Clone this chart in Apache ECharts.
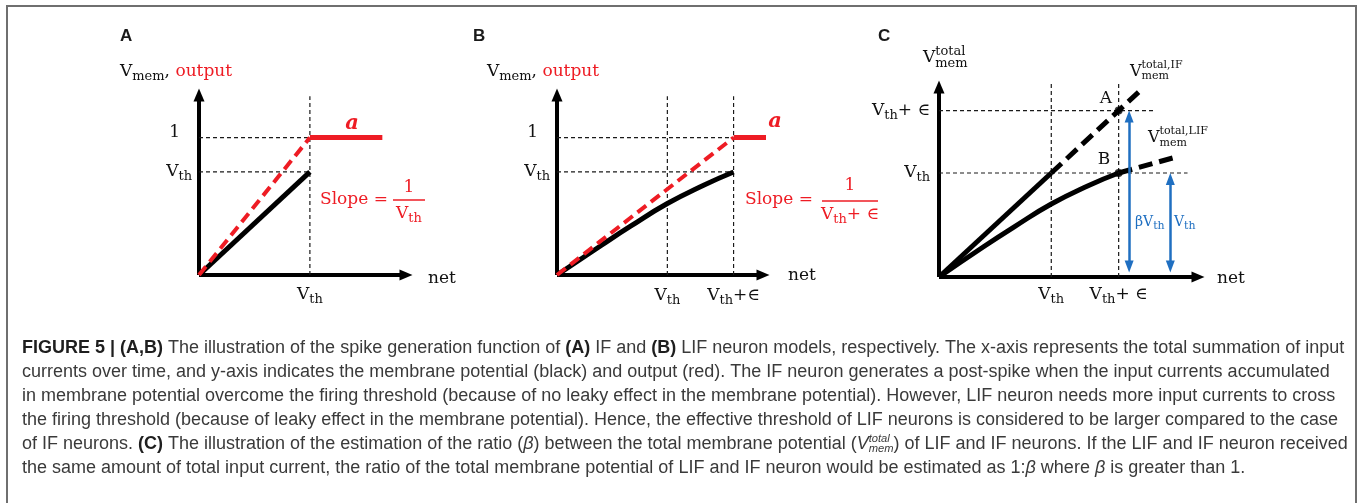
<!DOCTYPE html>
<html><head><meta charset="utf-8"><title>Figure 5</title>
<script src="https://cdn.jsdelivr.net/npm/echarts@6.0.0/dist/echarts.min.js"></script>
<style>html,body{margin:0;padding:0;background:#fff;}#chart{width:1360px;height:503px;}</style>
</head><body><div id="chart"></div>
<script>
// ---------------- data (x: net input, y: membrane potential / output) ----------------
const V_TH = 0.75;        // firing threshold
const V_TH_EPS = 1.2;     // effective threshold  V_th + ∈
const OUT_ONE = 1;        // output level "1"

// Panel A (IF neuron)
const memIF = [[0, 0], [0.75, 0.75]];
const outIF = [[0, 0], [0.75, 1]];
const spikeIF = [[0.75, 1], [1.24, 1]];
// Panel B (LIF neuron)
const memLIF = [[0, 0], [0.3, 0.215], [0.5, 0.355], [0.75, 0.52], [1.0, 0.655], [1.2, 0.75]];
const outLIF = [[0, 0], [1.2, 1]];
const spikeLIF = [[1.2, 1], [1.68, 1]];
// Panel C (total membrane potential)
const totIFSolid = [[0, 0], [0.75, 0.75]];
const totIFDash = [[0.75, 0.75], [1.2, 1.2], [1.35, 1.35]];
const totLIFSolid = [[0, 0], [0.3, 0.22], [0.5, 0.36], [0.75, 0.526], [1.0, 0.66], [1.2, 0.75]];
const totLIFDash = [[1.2, 0.75], [1.6, 0.87]];
const pointsAB = [[1.2, 1.2], [1.2, 0.75]];
const arrowBeta = [[1.27, 0.075], [1.27, 1.157]];
const arrowVth = [[1.545, 0.075], [1.545, 0.707]];

// dashed guide segments
const guideA = [[[0.75, 0], [0.75, 1.3]], [[0, 1], [0.75, 1]], [[0, 0.75], [0.75, 0.75]]];
const guideB = [[[0.75, 0], [0.75, 1.3]], [[1.2, 0], [1.2, 1.3]], [[0, 1], [1.2, 1]], [[0, 0.75], [1.2, 0.75]]];
const guideC = [[[0.75, 0], [0.75, 1.4]], [[1.2, 0], [1.2, 1.4]], [[0, 1.2], [1.43, 1.2]], [[0, 0.75], [1.66, 0.75]]];

// tick values and tick labels
const ticksAX = [V_TH], labelsAX = ['V_th'];
const ticksAY = [V_TH, OUT_ONE], labelsAY = ['V_th', '1'];
const ticksBX = [V_TH, V_TH_EPS], labelsBX = ['V_th', 'V_th+∈'];
const ticksBY = [V_TH, OUT_ONE], labelsBY = ['V_th', '1'];
const ticksCX = [V_TH, V_TH_EPS], labelsCX = ['V_th', 'V_th+ ∈'];
const ticksCY = [V_TH, V_TH_EPS], labelsCY = ['V_th', 'V_th+ ∈'];

// caption
const captionLines = [
  [{t: 'FIGURE 5 | (A,B)', b: 1}, {t: ' The illustration of the spike generation function of '}, {t: '(A)', b: 1}, {t: ' IF and '}, {t: '(B)', b: 1}, {t: ' LIF neuron models, respectively. The x-axis represents the total summation of input'}],
  [{t: 'currents over time, and y-axis indicates the membrane potential (black) and output (red). The IF neuron generates a post-spike when the input currents accumulated'}],
  [{t: 'in membrane potential overcome the firing threshold (because of no leaky effect in the membrane potential). However, LIF neuron needs more input currents to cross'}],
  [{t: 'the firing threshold (because of leaky effect in the membrane potential). Hence, the effective threshold of LIF neurons is considered to be larger compared to the case'}],
  [{t: 'of IF neurons. '}, {t: '(C)', b: 1}, {t: ' The illustration of the estimation of the ratio ('}, {t: 'β', i: 1}, {t: ') between the total membrane potential ('}, {t: 'V', i: 1}, {t: 'total', i: 1, sup: 1}, {t: 'mem', i: 1, sub: 1}, {t: ') of LIF and IF neurons. If the LIF and IF neuron received'}],
  [{t: 'the same amount of total input current, the ratio of the total membrane potential of LIF and IF neuron would be estimated as 1:'}, {t: 'β', i: 1}, {t: ' where '}, {t: 'β', i: 1}, {t: ' is greater than 1.'}]
];

// ---------------- styling helpers ----------------
const RED = '#ee1c24', BLUE = '#1f6fc1', INK = '#111111';
const SERIF = '"DejaVu Serif", "Liberation Serif", serif';
const F = (s, c) => (c || '') + s + 'px ' + SERIF;
const ctx = document.createElement('canvas').getContext('2d');
function tw(font, s) { ctx.font = font; return ctx.measureText(s).width; }

function runs(x, y, parts, align) {
  let total = 0;
  parts.forEach(p => { if (!p.noAdv) total += tw(p.f, p.t); });
  let cx = align === 'center' ? x - total / 2 : (align === 'right' ? x - total : x);
  const out = [];
  parts.forEach(p => {
    out.push({type: 'text', x: cx, y: y + (p.dy || 0), silent: true, z: 10,
      style: {text: p.t, font: p.f, fill: p.c || INK, textFill: p.c || INK,
              textAlign: 'left', align: 'left', textVerticalAlign: 'middle', verticalAlign: 'middle'}});
    if (!p.noAdv) cx += tw(p.f, p.t);
  });
  return out;
}

const AX_RICH = {
  v: {fontFamily: SERIF, fontSize: 17, lineHeight: 22, color: INK},
  s: {fontFamily: SERIF, fontSize: 13, lineHeight: 22, padding: [10, 0, 0, 0], color: INK},
  n: {fontFamily: SERIF, fontSize: 17, lineHeight: 22, padding: [0, 12, 10, 0], color: INK}
};
function fmt(s) {
  if (s === undefined) return '';
  if (s === '1') return '{n|1}';
  const m = s.match(/^V_th(.*)$/);
  return '{v|V}{s|th}' + (m && m[1] ? '{v|' + m[1] + '}' : '');
}
function axes(g, xmax, ymax, xt, xl, yt, yl, xm, ym) {
  const common = {type: 'value', gridIndex: g, min: 0, splitLine: {show: false}, axisTick: {show: false},
    axisLine: {show: true, onZero: false, symbol: ['none', 'triangle'], symbolSize: [11, 13],
               lineStyle: {color: '#000', width: 4, cap: 'butt'}}};
  return [
    Object.assign({}, common, {max: xmax, axisLabel: {show: true, customValues: xt, formatter: v => fmt(xl[xt.indexOf(v)]), rich: AX_RICH, margin: xm}}),
    Object.assign({}, common, {max: ymax, axisLabel: {show: true, customValues: yt, formatter: v => fmt(yl[yt.indexOf(v)]), rich: AX_RICH, margin: ym}})
  ];
}
function ln(g, data, color, width, dash, extra) {
  return Object.assign({type: 'line', xAxisIndex: g, yAxisIndex: g, data: data, symbol: 'none', showSymbol: false,
    clip: false, silent: true, animation: false, z: 3,
    lineStyle: {color: color, width: width, type: dash || 'solid', cap: 'butt'}}, extra || {});
}
const GUIDE = [4, 3];
function guides(g, segs) { return segs.map(s => ln(g, s, '#1a1a1a', 1.2, GUIDE, {z: 1})); }

// ---------------- axes / grids ----------------
const aAx = axes(0, 1.4, 1.31, ticksAX, labelsAX, ticksAY, labelsAY, 9, 7);
const bAx = axes(1, 1.4, 1.31, ticksBX, labelsBX, ticksBY, labelsBY, 10, 7);
const cAx = axes(2, 1.73, 1.37, ticksCX, labelsCX, ticksCY, labelsCY, 7, 9);

const grids = [
  {left: 199, top: 95, width: 207, height: 180, containLabel: false, outerBoundsMode: 'none'},
  {left: 557, top: 95, width: 206, height: 180, containLabel: false, outerBoundsMode: 'none'},
  {left: 939, top: 87, width: 259, height: 190, containLabel: false, outerBoundsMode: 'none'}
];

// ---------------- series ----------------
const series = [].concat(
  guides(0, guideA), guides(1, guideB), guides(2, guideC),
  [
    ln(0, memIF, '#000', 5),
    ln(0, outIF, RED, 4, [11, 6], {z: 4}),
    ln(0, spikeIF, RED, 5),
    ln(1, memLIF, '#000', 5, null, {smooth: true}),
    ln(1, outLIF, RED, 4, [11, 6], {z: 4}),
    ln(1, spikeLIF, RED, 5),
    ln(2, totIFSolid, '#000', 5),
    ln(2, totIFDash, '#000', 5, [14, 7]),
    ln(2, totLIFSolid, '#000', 5, null, {smooth: true}),
    ln(2, totLIFDash, '#000', 5, [14, 7]),
    {type: 'scatter', xAxisIndex: 2, yAxisIndex: 2, data: pointsAB, symbol: 'circle', symbolSize: 8,
     itemStyle: {color: '#000'}, silent: true, z: 5},
    {type: 'lines', coordinateSystem: 'cartesian2d', xAxisIndex: 2, yAxisIndex: 2, silent: true, z: 4,
     symbol: ['triangle', 'triangle'], symbolSize: [[9, 12], [9, 12]],
     lineStyle: {color: BLUE, width: 2.5, opacity: 1, curveness: 0},
     data: [{coords: arrowBeta}, {coords: arrowVth}]}
  ]
);

// ---------------- text annotations ----------------
let G = [];
G.push({type: 'polyline', silent: true, shape: {points: [[7, 503], [7, 6], [1356, 6], [1356, 503]]},
        style: {stroke: '#6f6f6f', lineWidth: 2, fill: 'none'}});
const LET = 'bold 17px "Liberation Sans", Arial, sans-serif';
G = G.concat(runs(120, 36, [{t: 'A', f: LET, c: '#1a1a1a'}]));
G = G.concat(runs(473, 36, [{t: 'B', f: LET, c: '#1a1a1a'}]));
G = G.concat(runs(878, 36, [{t: 'C', f: LET, c: '#1a1a1a'}]));
// axis names
const vmemOut = [{t: 'V', f: F(17)}, {t: 'mem', f: F(13), dy: 5}, {t: ', ', f: F(17)}, {t: 'output', f: F(17), c: RED}];
G = G.concat(runs(120, 72, vmemOut), runs(487, 72, vmemOut));
G = G.concat(runs(923, 58, [{t: 'V', f: F(17)}, {t: 'total', f: F(13), dy: -6, noAdv: true}, {t: 'mem', f: F(13), dy: 6}]));
G = G.concat(runs(428, 279, [{t: 'net', f: F(17)}]), runs(788, 276, [{t: 'net', f: F(17)}]), runs(1217, 279, [{t: 'net', f: F(17)}]));
// output level "a"
const AF = 'italic bold 21px ' + SERIF;
G = G.concat(runs(352, 124, [{t: 'a', f: AF, c: RED}], 'center'), runs(775, 122, [{t: 'a', f: AF, c: RED}], 'center'));
// slopes
G = G.concat(runs(320, 200, [{t: 'Slope =', f: F(17), c: RED}]));
G = G.concat(runs(409, 188, [{t: '1', f: F(17), c: RED}], 'center'));
G.push({type: 'line', silent: true, shape: {x1: 393, y1: 200, x2: 425, y2: 200}, style: {stroke: RED, lineWidth: 1.5}});
G = G.concat(runs(409, 214, [{t: 'V', f: F(17), c: RED}, {t: 'th', f: F(13), c: RED, dy: 5}], 'center'));
G = G.concat(runs(745, 200, [{t: 'Slope =', f: F(17), c: RED}]));
G = G.concat(runs(850, 186, [{t: '1', f: F(17), c: RED}], 'center'));
G.push({type: 'line', silent: true, shape: {x1: 822, y1: 201, x2: 878, y2: 201}, style: {stroke: RED, lineWidth: 1.5}});
G = G.concat(runs(850, 215, [{t: 'V', f: F(17), c: RED}, {t: 'th', f: F(13), c: RED, dy: 5}, {t: '+ ∈', f: F(17), c: RED}], 'center'));
// panel C labels
G = G.concat(runs(1106, 99, [{t: 'A', f: F(17)}], 'center'), runs(1104, 160, [{t: 'B', f: F(17)}], 'center'));
G = G.concat(runs(1130, 72, [{t: 'V', f: F(16)}, {t: 'total,IF', f: F(11), dy: -7, noAdv: true}, {t: 'mem', f: F(11), dy: 4}]));
G = G.concat(runs(1148, 138, [{t: 'V', f: F(16)}, {t: 'total,LIF', f: F(11), dy: -7, noAdv: true}, {t: 'mem', f: F(11), dy: 5}]));
G = G.concat(runs(1135, 222, [{t: 'βV', f: F(14), c: BLUE}, {t: 'th', f: F(11), c: BLUE, dy: 4}]));
G = G.concat(runs(1174, 222, [{t: 'V', f: F(14), c: BLUE}, {t: 'th', f: F(11), c: BLUE, dy: 4}]));

// caption (font size fitted to the caption width)
const CAP_FAM = '"Liberation Sans", Arial, sans-serif';
const capFont = (sz, b, i) => (i ? 'italic ' : '') + (b ? 'bold ' : '') + sz.toFixed(2) + 'px ' + CAP_FAM;
function lineParts(line, sz) {
  return line.map(p => ({
    t: p.t,
    f: capFont((p.sup || p.sub) ? sz * 0.62 : sz, p.b, p.i),
    c: p.b ? '#1e1e1e' : '#3a3a3a',
    dy: p.sup ? -sz * 0.3 : (p.sub ? sz * 0.28 : 0),
    noAdv: !!p.sup
  }));
}
const refW = lineParts(captionLines[3], 100).reduce((a, p) => a + tw(p.f, p.t), 0);
const capSize = 100 * 1316 / refW;
captionLines.forEach((line, k) => { G = G.concat(runs(22, 348 + 24 * k, lineParts(line, capSize))); });

// ---------------- chart ----------------
const chart = echarts.init(document.getElementById('chart'), null, {renderer: 'canvas', width: 1360, height: 503});
chart.setOption({
  animation: false,
  backgroundColor: '#ffffff',
  grid: grids,
  xAxis: [aAx[0], bAx[0], cAx[0]],
  yAxis: [aAx[1], bAx[1], cAx[1]],
  series: series,
  graphic: {elements: G}
});
</script></body></html>
